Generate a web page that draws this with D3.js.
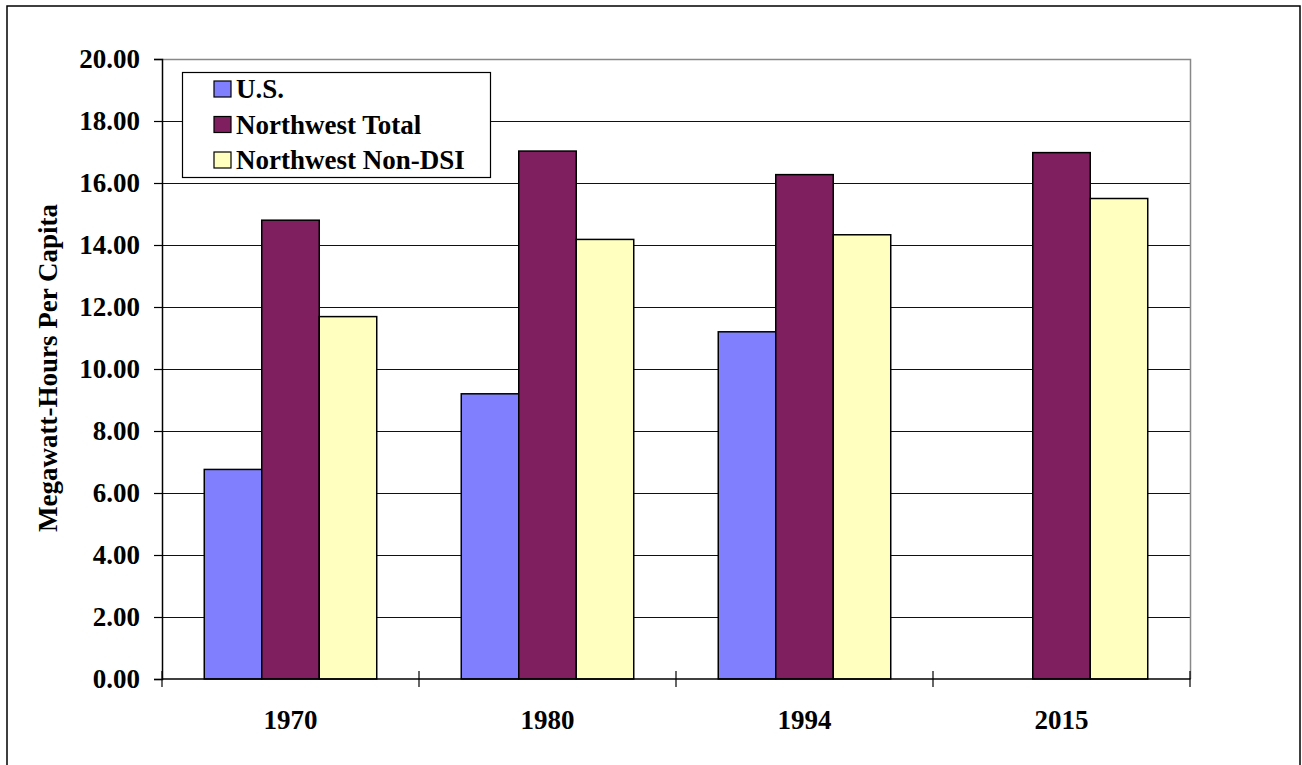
<!DOCTYPE html>
<html>
<head>
<meta charset="utf-8">
<script src="https://cdn.jsdelivr.net/npm/d3@7"></script>
<style>
  html, body { margin: 0; padding: 0; background: #fff; }
  svg { display: block; }
  svg text { font-family: "Liberation Serif", serif; font-weight: 700; fill: #000; }
</style>
</head>
<body>
<svg id="chart" width="1302" height="765"></svg>
<script>
// Per-capita electricity use, megawatt-hours
const years = ["1970", "1980", "1994", "2015"];
const seriesNames = ["U.S.", "Northwest Total", "Northwest Non-DSI"];
const usValues = [6.76, 9.20, 11.20, null];
const nwTotalValues = [14.80, 17.03, 16.27, 16.98];
const nwNonDsiValues = [11.69, 14.18, 14.33, 15.50];
const seriesColors = ["#8080FF", "#7F1F5F", "#FFFFC0"];
const yTicks = [0, 2, 4, 6, 8, 10, 12, 14, 16, 18, 20];
const yTitle = "Megawatt-Hours Per Capita";

const seriesValues = [usValues, nwTotalValues, nwNonDsiValues];

const svg = d3.select("#chart");
const plot = { left: 162, right: 1190, top: 59, bottom: 679 };
const FONT = "'Liberation Serif', serif";

// outer frame
svg.append("rect")
  .attr("x", 7).attr("y", 6).attr("width", 1293).attr("height", 800)
  .attr("fill", "none").attr("stroke", "#000").attr("stroke-width", 1.5);

const x = d3.scaleBand().domain(years).range([plot.left, plot.right]).paddingInner(0).paddingOuter(0);
const inner = d3.scaleBand().domain(seriesNames).range([0, x.bandwidth()]).paddingInner(0).paddingOuter(0.735);
const y = d3.scaleLinear().domain([0, 20]).range([plot.bottom, plot.top]);

// gridlines
svg.append("g").selectAll("line")
  .data(yTicks.filter(t => t > 0 && t < 20))
  .join("line")
  .attr("x1", plot.left).attr("x2", plot.right)
  .attr("y1", d => y(d) + 0.5).attr("y2", d => y(d) + 0.5)
  .attr("stroke", "#111").attr("stroke-width", 1.2);

// plot area top/right border
svg.append("path")
  .attr("d", `M${plot.left},${y(20) + 0.5}H${plot.right + 0.5}V${plot.bottom}`)
  .attr("fill", "none").attr("stroke", "#888").attr("stroke-width", 1.5);

// bars
const barData = [];
seriesValues.forEach((vals, si) => {
  vals.forEach((v, i) => {
    if (v != null) barData.push({ year: years[i], series: seriesNames[si], value: v, color: seriesColors[si] });
  });
});
svg.append("g").selectAll("rect")
  .data(barData)
  .join("rect")
  .attr("x", d => x(d.year) + inner(d.series))
  .attr("y", d => y(d.value))
  .attr("width", inner.bandwidth())
  .attr("height", d => y(0) - y(d.value))
  .attr("fill", d => d.color)
  .attr("stroke", "#000").attr("stroke-width", 1.5);

// y axis
const yAxis = d3.axisLeft(y).tickValues(yTicks).tickFormat(d3.format(".2f")).tickSize(8).tickPadding(14);
const yg = svg.append("g").attr("transform", `translate(${plot.left},0)`).call(yAxis)
  .attr("font-family", FONT).attr("font-size", 27);
yg.select(".domain").attr("stroke", "#000").attr("stroke-width", 1.5);
yg.selectAll(".tick line").attr("stroke", "#000").attr("stroke-width", 1.2);
yg.selectAll(".tick text").attr("font-weight", "bold").attr("fill", "#000");

// x axis baseline with cross ticks at category boundaries
svg.append("line")
  .attr("x1", plot.left).attr("x2", plot.right + 0.5)
  .attr("y1", plot.bottom).attr("y2", plot.bottom)
  .attr("stroke", "#000").attr("stroke-width", 1.5);
const boundaries = years.map(d => x(d)).concat([plot.right]);
svg.append("g").selectAll("line")
  .data(boundaries)
  .join("line")
  .attr("x1", d => d).attr("x2", d => d)
  .attr("y1", plot.bottom - 8).attr("y2", plot.bottom + 8)
  .attr("stroke", "#000").attr("stroke-width", 1.2);

// category labels
svg.append("g").selectAll("text")
  .data(years)
  .join("text")
  .attr("x", d => x(d) + x.bandwidth() / 2)
  .attr("y", 729)
  .attr("text-anchor", "middle")
  .attr("font-family", FONT)
  .attr("font-size", 27)
  .text(d => d);

// y axis title
svg.append("text")
  .attr("transform", `translate(57,368) rotate(-90)`)
  .attr("text-anchor", "middle")
  .attr("font-family", FONT)
  .attr("font-size", 27)
  .text(yTitle);

// legend
const lg = svg.append("g");
lg.append("rect")
  .attr("x", 182.5).attr("y", 72.5).attr("width", 308).attr("height", 105)
  .attr("fill", "#fff").attr("stroke", "#000").attr("stroke-width", 1.2);
const rows = lg.selectAll("g.row")
  .data(seriesNames)
  .join("g").attr("class", "row")
  .attr("transform", (d, i) => `translate(0,${89 + i * 35.5})`);
rows.append("rect")
  .attr("x", 214).attr("y", -8).attr("width", 17).attr("height", 16)
  .attr("fill", (d, i) => seriesColors[i])
  .attr("stroke", "#000").attr("stroke-width", 1.2);
rows.append("text")
  .attr("x", 236).attr("y", 9)
  .attr("font-family", FONT)
  .attr("font-size", 27)
  .text(d => d);
</script>
</body>
</html>
